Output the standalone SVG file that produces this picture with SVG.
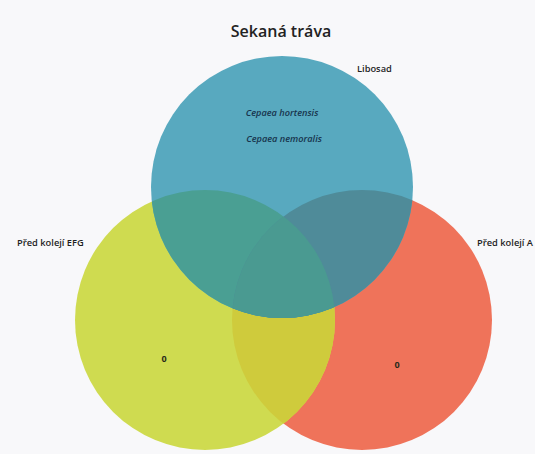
<svg xmlns="http://www.w3.org/2000/svg" width="535" height="454" viewBox="0 0 535 454">
  <style>
    .lbl { font-family: "Open Sans", "Noto Sans", "DejaVu Sans", sans-serif; font-size: 9.3px; font-weight: 600; fill: #1e1e1e; }
    .title { font-family: "Open Sans", "Noto Sans", "DejaVu Sans", sans-serif; font-size: 16px; font-weight: 600; fill: #222; text-anchor: middle; }
    .sp { font-family: "Open Sans", "Noto Sans", "DejaVu Sans", sans-serif; font-size: 9.2px; font-style: italic; font-weight: 600; fill: #17344d; text-anchor: middle; }
    .num { font-family: "Open Sans", "Noto Sans", "DejaVu Sans", sans-serif; font-size: 9px; font-weight: 700; fill: #2a2a1a; text-anchor: middle; }
  </style>
  <defs>
    <clipPath id="cGreen"><circle cx="205" cy="320" r="130"/></clipPath>
    <clipPath id="cRed"><circle cx="362" cy="320" r="130"/></clipPath>
  </defs>
  <rect width="535" height="454" fill="#f8f8fa"/>
  <text class="title" x="281" y="37">Sekaná tráva</text>

  <g id="set-a">
    <circle cx="362" cy="320" r="130" fill="#ef735a"/>
    <text class="lbl" x="477" y="246">Před kolejí A</text>
    <text class="num" x="397" y="368">0</text>
  </g>

  <g id="set-efg">
    <circle cx="205" cy="320" r="130" fill="#cfdb50"/>
    <g clip-path="url(#cRed)"><circle cx="205" cy="320" r="130" fill="#cfcb3c"/></g>
    <text class="lbl" x="17" y="246">Před kolejí EFG</text>
    <text class="num" x="164" y="362">0</text>
  </g>

  <g id="set-libosad">
    <circle cx="282" cy="187" r="131" fill="#58a9bf"/>
    <g clip-path="url(#cGreen)"><circle cx="282" cy="187" r="131" fill="#4a9f93"/></g>
    <g clip-path="url(#cRed)"><circle cx="282" cy="187" r="131" fill="#4f8b99"/></g>
    <g clip-path="url(#cRed)"><g clip-path="url(#cGreen)"><circle cx="282" cy="187" r="131" fill="#4a9a91"/></g></g>
    <text class="lbl" x="357" y="72">Libosad</text>
    <text class="sp" x="282" y="116">Cepaea hortensis</text>
    <text class="sp" x="284" y="142">Cepaea nemoralis</text>
  </g>
</svg>
